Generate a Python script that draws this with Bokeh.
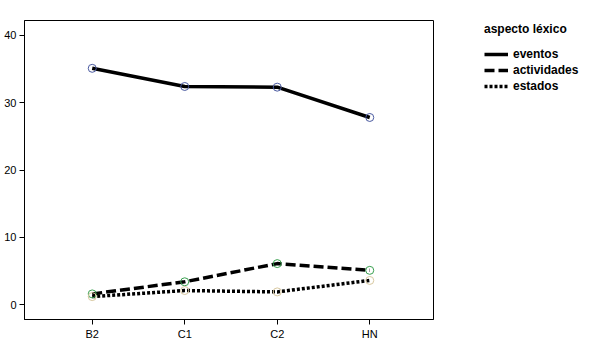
from bokeh.plotting import figure
from bokeh.models import Range1d, Legend, LegendItem, FixedTicker
from bokeh.embed import file_html
from bokeh.resources import INLINE

categories = ["B2", "C1", "C2", "HN"]
eventos = [35.1, 32.4, 32.3, 27.8]
actividades = [1.6, 3.4, 6.1, 5.1]
estados = [1.2, 2.1, 1.9, 3.6]
y_ticks = [0, 10, 20, 30, 40]
legend_title = "aspecto léxico"
series_names = ["eventos", "actividades", "estados"]

xs = list(range(1, len(categories) + 1))

p = figure(frame_width=409, frame_height=299, output_backend="svg", toolbar_location=None,
           x_range=Range1d(0.268, 4.689), y_range=Range1d(-2.2, 42.2),
           min_border_left=24, min_border_right=160, min_border_top=20, min_border_bottom=24)
p.background_fill_color = "white"
p.border_fill_color = "white"
p.outline_line_color = "black"
p.outline_line_width = 1
p.xgrid.visible = False
p.ygrid.visible = False

font = "Liberation Sans"
for ax in (p.xaxis[0], p.yaxis[0]):
    ax.axis_line_color = "black"
    ax.major_tick_line_color = "black"
    ax.major_tick_out = 5
    ax.major_tick_in = 0
    ax.minor_tick_line_color = None
    ax.major_label_text_font = font
    ax.major_label_text_font_size = "11px"
    ax.major_label_text_color = "black"
    ax.major_label_standoff = 3

p.xaxis.ticker = FixedTicker(ticks=xs)
p.xaxis.major_label_overrides = {x: c for x, c in zip(xs, categories)}
p.yaxis.ticker = FixedTicker(ticks=y_ticks)

r1 = p.line(xs, eventos, line_color="black", line_width=3.5)
r2 = p.line(xs, actividades, line_color="black", line_width=3.5, line_dash="10 4")
r3 = p.line(xs, estados, line_color="black", line_width=3.5, line_dash="3 2")
p.scatter(xs, eventos, size=8, fill_color=None, line_color="#4a5aa0", line_width=1)
p.scatter(xs, actividades, size=8, fill_color=None, line_color="#3aa050", line_width=1)
p.scatter(xs, estados, size=8, fill_color=None, line_color="#d8c8a0", line_width=1)

legend = Legend(items=[LegendItem(label=series_names[0], renderers=[r1]),
                       LegendItem(label=series_names[1], renderers=[r2]),
                       LegendItem(label=series_names[2], renderers=[r3])],
                title=legend_title, location=(51, 226))
legend.title_text_font = font
legend.title_text_font_style = "bold"
legend.title_text_font_size = "12px"
legend.title_text_color = "black"
legend.title_standoff = 11
legend.label_text_font = font
legend.label_text_font_style = "bold"
legend.label_text_font_size = "12px"
legend.label_text_color = "black"
legend.label_height = 12
legend.glyph_height = 12
legend.glyph_width = 24
legend.label_standoff = 5
legend.spacing = 2
legend.padding = 4
legend.margin = 0
legend.border_line_color = None
legend.background_fill_alpha = 0
p.add_layout(legend, "right")

open("out.html", "w").write(file_html(p, INLINE))
